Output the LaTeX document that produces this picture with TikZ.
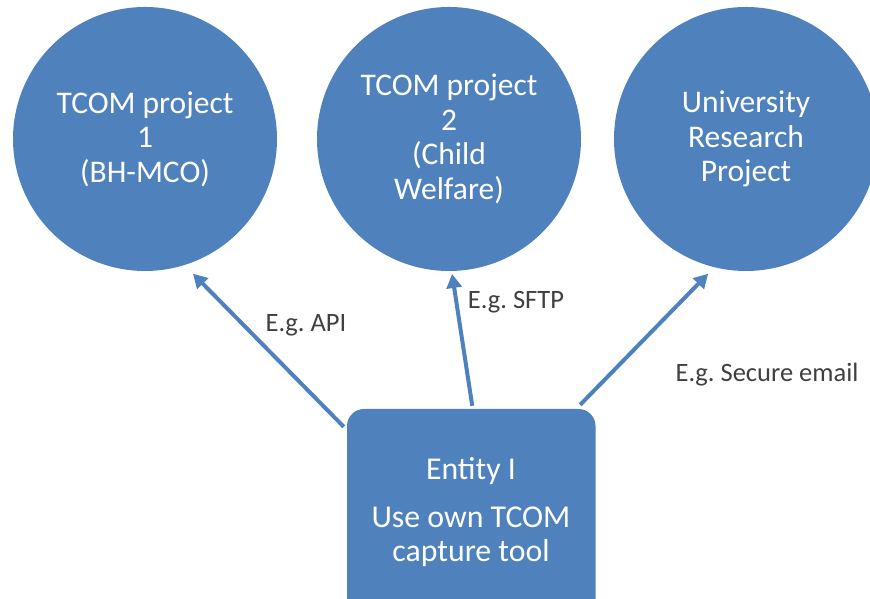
\documentclass[tikz,border=0pt]{standalone}
\usepackage{fontspec}
\setmainfont{Carlito}
\frenchspacing
\usetikzlibrary{arrows.meta,calc}
\definecolor{obl}{HTML}{4F81BD}
\definecolor{lbl}{HTML}{404040}
\begin{document}
\begin{tikzpicture}[x=1pt,y=1pt,
  bubble/.style={circle,fill=obl,draw=none,minimum size=264pt,inner sep=0pt,text=white,align=center,font=\fontsize{31.5}{34.5}\selectfont},
  entbox/.style={rectangle,rounded corners=17pt,fill=obl,draw=none,minimum width=248.5pt,minimum height=220pt,inner sep=0pt},
  boxtext/.style={text=white,align=center,font=\fontsize{31.8}{34}\selectfont},
  lab/.style={text=lbl,font=\fontsize{26.5}{30}\selectfont,inner sep=0pt},
  arr/.style={draw=obl,line width=4pt,-{Triangle[length=14pt,width=15pt]}}]
\useasboundingbox (0,0) rectangle (870,599);
\node[bubble] (c1) at (145,460) {TCOM project\\1\\(BH-MCO)};
\node[bubble] (c2) at (449,460) {TCOM project\\2\\(Child\\Welfare)};
\node[bubble] (c3) at (746,460) {University\\Research\\Project};
\node[entbox] (box) at (471.25,80) {};
\node[boxtext] (boxlabel) at (471,87) {Entity I\\[14pt]Use own TCOM\\capture tool};
\draw[arr] ($(box.north west)+(-3pt,-18pt)$) -- ($(c1.center)+(-70.4:143pt)$);
\draw[arr] ($(box.north)+(1pt,3pt)$) -- ($(c2.center)+(-88.7:135pt)$);
\draw[arr] ($(box.north east)+(-15.5pt,4pt)$) -- ($(c3.center)+(-105.7:140pt)$);
\node[lab] (l1) at (306,274) {E.g. API};
\node[lab] (l2) at (516,297) {E.g. SFTP};
\node[lab] (l3) at (767,224) {E.g. Secure email};
\end{tikzpicture}
\end{document}
